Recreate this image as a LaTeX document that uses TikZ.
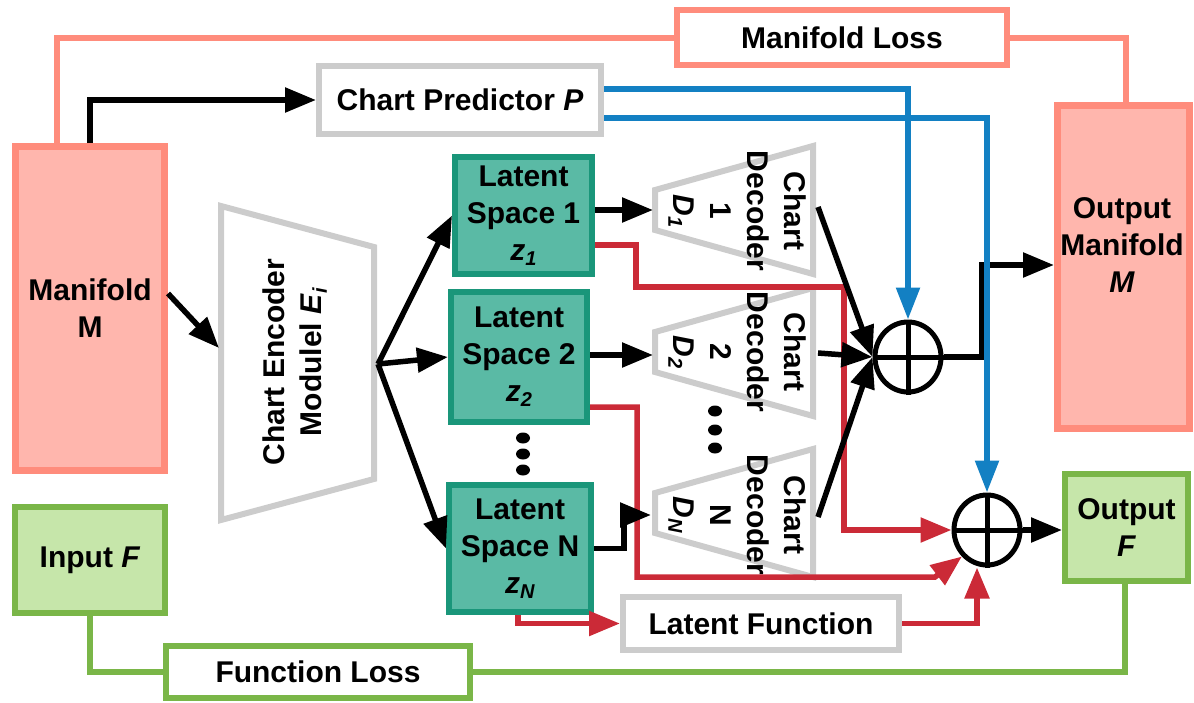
\documentclass[tikz,border=0pt]{standalone}
\usepackage{fontspec}
\setmainfont{Liberation Sans}
\usetikzlibrary{arrows.meta,shapes.geometric}
\definecolor{salB}{HTML}{FF8C7C}
\definecolor{salF}{HTML}{FFB6AD}
\definecolor{grnB}{HTML}{7AB648}
\definecolor{grnF}{HTML}{C6E6AA}
\definecolor{tealF}{HTML}{5ABAA5}
\definecolor{tealB}{HTML}{1A967A}
\definecolor{grayc}{HTML}{CCCCCC}
\definecolor{bluc}{HTML}{1380C3}
\definecolor{redc}{HTML}{CB2A37}
\newcommand\isub[2]{\textit{#1}\raisebox{-0.3ex}{\fontsize{20}{20}\selectfont\textit{#2}}}
\begin{document}
\begin{tikzpicture}[x=1pt,y=-1pt,
  every node/.style={font=\fontsize{30}{37}\selectfont\bfseries, align=center},
  box/.style={draw, line width=6, rectangle, inner sep=0},
  salbox/.style={box, draw=salB, fill=salF, line width=7},
  grnbox/.style={box, draw=grnB, fill=grnF},
  graybox/.style={box, draw=grayc, fill=white},
  tealbox/.style={box, draw=tealB, fill=tealF},
  trap/.style={draw=grayc, line width=6, line join=miter},
  blk/.style={line width=5.5, black, -{Triangle[length=31,width=24]}},
  redl/.style={line width=5.5, redc, -{Triangle[length=31,width=24]}},
  blu/.style={line width=5.5, bluc, -{Triangle[length=32,width=23]}},
  salline/.style={line width=6, salB},
  grnline/.style={line width=6, grnB},
  opl/.style={ellipse, draw, line width=5, minimum width=66, minimum height=70, inner sep=0}
]
\useasboundingbox (0,0) rectangle (1194,702);

% boxes
\node[salbox, minimum width=149, minimum height=324] (man) at (90,308.5) {Manifold\\M};
\node[grnbox, minimum width=150, minimum height=106] (inF) at (90,560) {Input \textit{F}};
\node[box, draw=grnB, fill=white, minimum width=304, minimum height=52] (fl) at (318,672) {Function Loss};
\node[graybox, minimum width=282, minimum height=68] (cp) at (460,100) {Chart Predictor \textit{P}};
\node[box, draw=salB, fill=white, minimum width=330, minimum height=55] (ml) at (842,37.5) {Manifold Loss};
\node[salbox, minimum width=132, minimum height=323] (om) at (1123.5,267) {};
\node (omt) at (1122,245) {Output\\Manifold\\\textit{M}};
\node[grnbox, minimum width=123, minimum height=107] (oF) at (1126.5,527.5) {Output\\\textit{F}};
\node[graybox, minimum width=276, minimum height=53] (lf) at (761,623.5) {Latent Function};

\node[tealbox, minimum width=137, minimum height=117] (ls1) at (523.5,215.5) {Latent\\Space 1\\\isub{z}{1}};
\node[tealbox, minimum width=136, minimum height=130] (ls2) at (519,357) {Latent\\Space 2\\\isub{z}{2}};
\node[tealbox, minimum width=142, minimum height=127] (lsN) at (520,548.5) {Latent\\Space N\\\isub{z}{N}};

% encoder
\draw[trap] (221,206) -- (374,247) -- (374,479) -- (221,520) -- cycle;
\node[rotate=90] (enct) at (295,362) {Chart Encoder\\Modulel \isub{E}{i}};

% decoders
\draw[trap] (655,190) -- (813,146) -- (813,274) -- (655,230) -- cycle;
\draw[trap] (655,332) -- (813,288) -- (813,416) -- (655,372) -- cycle;
\draw[trap] (655,493) -- (813,449) -- (813,577) -- (655,533) -- cycle;
\node[rotate=-90] (d1t) at (737,211) {Chart\\Decoder\\1\\\isub{D}{1}};
\node[rotate=-90] (d2t) at (737,352) {Chart\\Decoder\\2\\\isub{D}{2}};
\node[rotate=-90] (dNt) at (737,515) {Chart\\Decoder\\N\\\isub{D}{N}};

% dots
\fill (523,438) ellipse [x radius=7pt, y radius=5.5pt];
\fill (523,454) ellipse [x radius=7pt, y radius=5.5pt];
\fill (523,470) ellipse [x radius=7pt, y radius=5.5pt];
\fill (715,411) ellipse [x radius=7pt, y radius=5.5pt];
\fill (715,430) ellipse [x radius=7pt, y radius=5.5pt];
\fill (715,448) ellipse [x radius=7pt, y radius=5.5pt];

% oplus
\node[opl] (op1) at (908,357) {};
\node[opl] (op2) at (987,530) {};
\draw[line width=5] (op1.north) -- (op1.south) (op1.west) -- (op1.east);
\draw[line width=5] (op2.north) -- (op2.south) (op2.west) -- (op2.east);

% coordinates
\coordinate (encin) at (219,348);
\coordinate (encout) at (378,364);
\coordinate (d1in) at (653,210);
\coordinate (d2in) at (653,355);
\coordinate (dNbend) at (624,515);
\coordinate (dNin) at (651,515);
\coordinate (d1out) at (818,207);
\coordinate (d2out) at (818,353);
\coordinate (dNout) at (818,517);
\coordinate (opb) at (982,265);
\coordinate (rA1) at (636,287);
\coordinate (rA2) at (844,287);
\coordinate (rB1) at (637,577);
\coordinate (rB2) at (935,577);

% loss lines
\draw[salline] ([xshift=-33]man.north) |- (ml.west);
\draw[salline] (ml.east) -| ([xshift=2.5]om.north);
\draw[grnline] (inF.south) |- (fl.west);
\draw[grnline] (fl.east) -| ([xshift=-1.5]oF.south);

% red
\draw[redl] ([yshift=-29.5]ls1.east) -| (rA1) -- (rA2) |- (op2.west);
\draw[redl] ([yshift=-50]ls2.east) -| (rB1) -- (rB2) -- (op2.south west);
\draw[redl] ([xshift=-2]lsN.south) |- (lf.west);
\draw[redl] (lf.east) -| ([xshift=-10]op2.south);

% black
\draw[blk] (man.north) |- (cp.west);
\draw[blk] ([yshift=15]man.east) -- (encin);
\draw[blk] (encout) -- (ls1.west);
\draw[blk] (encout) -- (ls2.west);
\draw[blk] (encout) -- (lsN.west);
\draw[blk] ([yshift=5.5]ls1.east) -- (d1in);
\draw[blk] ([yshift=2]ls2.east) -- (d2in);
\draw[blk] (lsN.east) -| (dNbend) -- (dNin);
\draw[blk] (d1out) -- (op1.west);
\draw[blk] (d2out) -- (op1.west);
\draw[blk] (dNout) -- (op1.west);
\draw[blk] (op1.east) -| (opb) -- (opb -| om.west);
\draw[blk] (op2.east) -- (op2.east -| oF.west);

% blue
\draw[blu] ([yshift=11]cp.east) -| (op1.north);
\draw[blu] ([yshift=-18]cp.east) -| (op2.north);
\end{tikzpicture}
\end{document}
